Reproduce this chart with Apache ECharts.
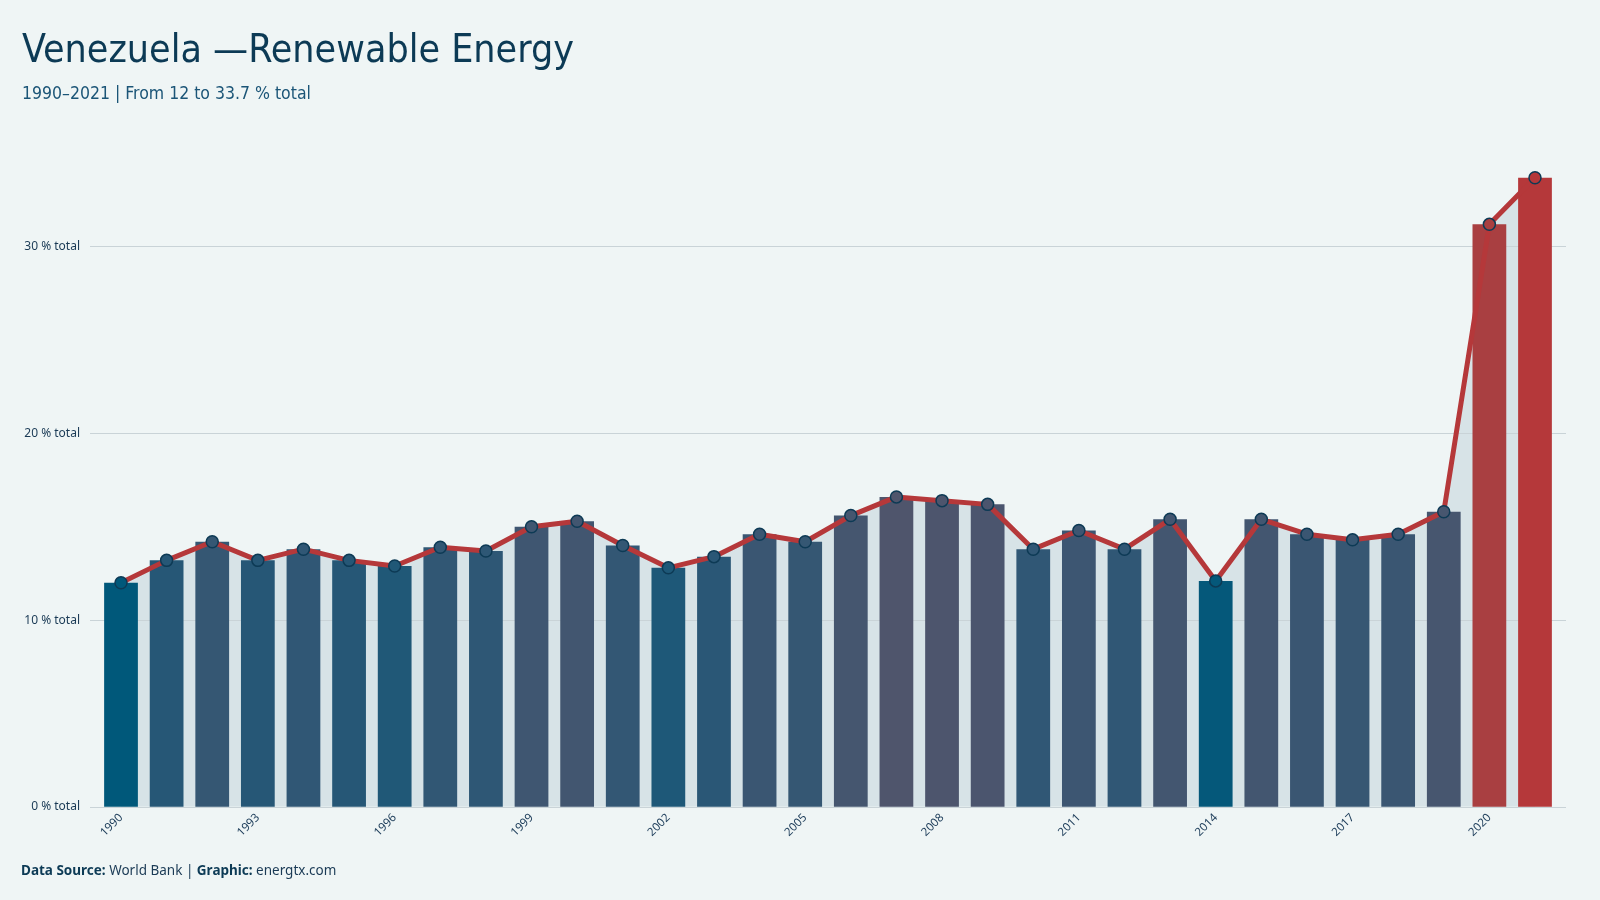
<!DOCTYPE html>
<html>
<head>
<meta charset="utf-8">
<title>Venezuela - Renewable Energy</title>
<script src="https://cdn.jsdelivr.net/npm/echarts@6/dist/echarts.min.js"></script>
<style>
  html, body { margin: 0; padding: 0; background: #eff5f5; }
  #chart { width: 1600px; height: 900px; }
</style>
</head>
<body>
<div id="chart"></div>
<script>
// data: renewable energy share, % of total
const years = ['1990','1991','1992','1993','1994','1995','1996','1997','1998','1999',
  '2000','2001','2002','2003','2004','2005','2006','2007','2008','2009',
  '2010','2011','2012','2013','2014','2015','2016','2017','2018','2019','2020','2021']
const share = [12.0, 13.2, 14.2, 13.2, 13.8, 13.2, 12.9, 13.9, 13.7, 15.0,
  15.3, 14.0, 12.8, 13.4, 14.6, 14.2, 15.6, 16.6, 16.4, 16.2,
  13.8, 14.8, 13.8, 15.4, 12.1, 15.4, 14.6, 14.3, 14.6, 15.8, 31.2, 33.7]
const yTicks = [0, 10, 20, 30]

// colour scale low -> high, mixed in Lab space
const lowColor = '#00587a'
const highColor = '#b5383a'

function toLab(hex) {
  let rgb = [1, 3, 5].map(i => parseInt(hex.substr(i, 2), 16) / 255)
  rgb = rgb.map(c => c <= 0.04045 ? c / 12.92 : Math.pow((c + 0.055) / 1.055, 2.4))
  let x = (rgb[0] * 0.4124 + rgb[1] * 0.3576 + rgb[2] * 0.1805) / 0.95047
  let y = (rgb[0] * 0.2126 + rgb[1] * 0.7152 + rgb[2] * 0.0722)
  let z = (rgb[0] * 0.0193 + rgb[1] * 0.1192 + rgb[2] * 0.9505) / 1.08883
  const f = t => t > 0.008856 ? Math.cbrt(t) : 7.787 * t + 16 / 116
  x = f(x); y = f(y); z = f(z)
  return [116 * y - 16, 500 * (x - y), 200 * (y - z)]
}
function fromLab(lab) {
  let y = (lab[0] + 16) / 116
  let x = lab[1] / 500 + y
  let z = y - lab[2] / 200
  const g = t => t * t * t > 0.008856 ? t * t * t : (t - 16 / 116) / 7.787
  x = g(x) * 0.95047; y = g(y); z = g(z) * 1.08883
  let r = x * 3.2406 + y * -1.5372 + z * -0.4986
  let gg = x * -0.9689 + y * 1.8758 + z * 0.0415
  let b = x * 0.0557 + y * -0.2040 + z * 1.0570
  const enc = c => {
    c = c > 0.0031308 ? 1.055 * Math.pow(c, 1 / 2.4) - 0.055 : 12.92 * c
    return Math.max(0, Math.min(255, Math.round(c * 255)))
  }
  return 'rgb(' + enc(r) + ',' + enc(gg) + ',' + enc(b) + ')'
}
const labLow = toLab(lowColor)
const labHigh = toLab(highColor)
const vMin = Math.min(...share)
const vMax = Math.max(...share)
function colorFor(v) {
  const t = (v - vMin) / (vMax - vMin)
  return fromLab(labLow.map((c, i) => c + (labHigh[i] - c) * t))
}

const chart = echarts.init(document.getElementById('chart'))

const labelFont = 'Noto Sans, DejaVu Sans, sans-serif'
const titleFont = 'Liberation Sans Narrow, DejaVu Sans Condensed, sans-serif'

const option = {
  backgroundColor: '#eff5f5',
  animation: false,
  title: [
    {
      text: 'Venezuela \u2014Renewable Energy',
      left: 22,
      top: 32,
      padding: 0,
      textStyle: { fontFamily: titleFont, fontSize: 39, fontWeight: 'normal', color: '#0c3a55' }
    },
    {
      text: '1990\u20132021 | From 12 to 33.7 % total',
      left: 22,
      top: 85,
      padding: 0,
      textStyle: { fontFamily: titleFont, fontSize: 17.5, fontWeight: 'normal', color: '#1b5577' }
    },
    {
      text: '{b|Data Source:} World Bank | {b|Graphic:} energtx.com',
      left: 21,
      top: 864,
      padding: 0,
      textStyle: {
        fontFamily: labelFont, fontSize: 13.5, fontWeight: 'normal', color: '#1a3a55',
        rich: { b: { fontFamily: labelFont, fontSize: 13.5, fontWeight: 'bold', color: '#0c3a55' } }
      }
    }
  ],
  grid: [
    { left: 98.2, right: 42.2, top: 153.4, bottom: 93.2 },
    { left: 90, right: 34, top: 153.4, bottom: 93.2 }
  ],
  xAxis: [
    {
      type: 'category',
      gridIndex: 0,
      data: years,
      axisLine: { show: false },
      axisTick: { show: false },
      axisLabel: {
        interval: 2,
        rotate: 45,
        margin: 9,
        fontFamily: labelFont,
        fontSize: 11.5,
        color: '#1d3d5a'
      }
    },
    {
      type: 'value',
      gridIndex: 1,
      min: 0,
      max: 1,
      show: false
    }
  ],
  yAxis: [
    {
      type: 'value',
      gridIndex: 0,
      min: 0,
      max: 35,
      show: false
    },
    {
      type: 'value',
      gridIndex: 1,
      min: 0,
      max: 35,
      interval: 10,
      z: 1,
      axisLine: { show: false },
      axisTick: { show: false },
      axisLabel: {
        margin: 10,
        fontFamily: labelFont,
        fontSize: 12,
        color: '#1a3a55',
        showMaxLabel: false,
        formatter: v => yTicks.indexOf(v) >= 0 ? v + ' % total' : ''
      },
      splitLine: {
        showMaxLine: false,
        lineStyle: { color: '#c9d3d7', width: 1.2 }
      }
    }
  ],
  series: [
    {
      // shaded area under the line, behind the bars
      type: 'line',
      xAxisIndex: 0,
      yAxisIndex: 0,
      z: 0,
      data: share,
      symbol: 'none',
      lineStyle: { width: 0 },
      areaStyle: { color: '#d7e3e7', opacity: 1 },
      silent: true
    },
    {
      type: 'bar',
      xAxisIndex: 0,
      yAxisIndex: 0,
      z: 2,
      barWidth: '74%',
      data: share.map(v => ({ value: v, itemStyle: { color: colorFor(v) } }))
    },
    {
      type: 'line',
      xAxisIndex: 0,
      yAxisIndex: 0,
      z: 3,
      symbol: 'circle',
      symbolSize: 12,
      lineStyle: { color: '#b5383a', width: 5 },
      data: share.map(v => ({
        value: v,
        itemStyle: { color: colorFor(v), borderColor: '#0d3a55', borderWidth: 1.5 }
      }))
    }
  ]
}

chart.setOption(option)
</script>
</body>
</html>
